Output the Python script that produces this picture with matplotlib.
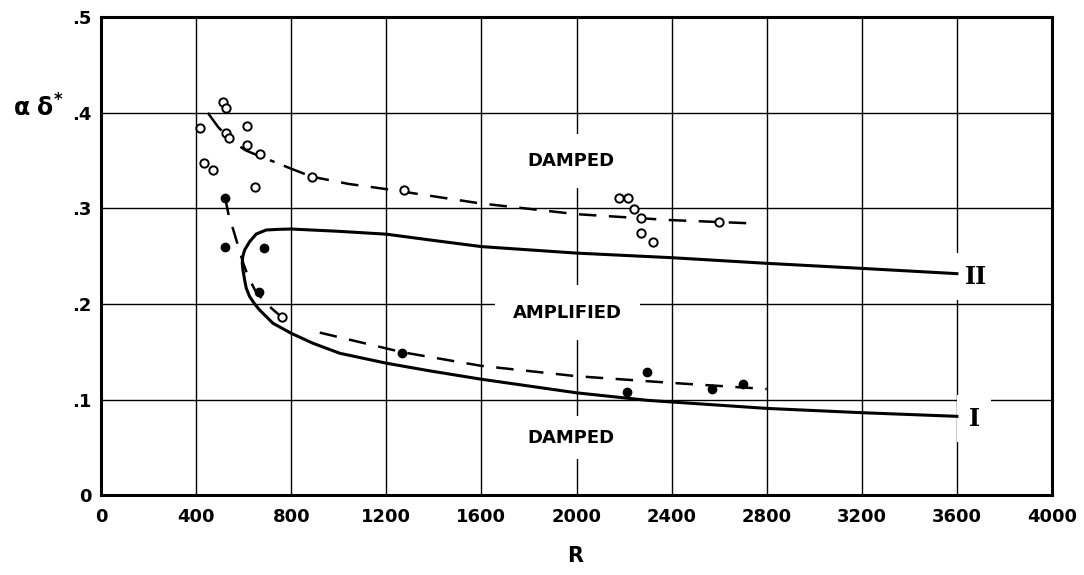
import matplotlib
matplotlib.use("Agg")
import matplotlib.pyplot as plt

# neutral stability curve, from branch II end round the nose to branch I end
curve_R = [3600, 3200, 2800, 2400, 2000, 1600, 1382, 1200, 1000, 800, 751, 695, 653,
           625, 604, 596, 594, 597, 604, 611, 625, 646, 667, 723, 800, 891, 1004, 1200,
           1382, 1600, 2000, 2300, 2800, 3200, 3600]
curve_a = [0.2317, 0.2372, 0.2425, 0.2484, 0.2532, 0.260, 0.267, 0.273, 0.276, 0.2784,
           0.2781, 0.2774, 0.2732, 0.2652, 0.2564, 0.2495, 0.2425, 0.2355, 0.2251,
           0.2164, 0.2077, 0.200, 0.1937, 0.1798, 0.1693, 0.1589, 0.1484, 0.138,
           0.130, 0.1212, 0.107, 0.0991, 0.0907, 0.0862, 0.0824]

# upper dashed curve (dash-dot part first)
upper_R = [449, 494, 550, 606, 662, 733, 803, 886, 1041, 1196, 1590, 1997, 2390, 2740]
upper_a = [0.400, 0.3847, 0.3708, 0.361, 0.3551, 0.3482, 0.3412, 0.3332, 0.3256,
           0.3203, 0.3054, 0.294, 0.2878, 0.2843]
n_dashdot = 8

# lower dashed curve, two pieces
low1_R = [522, 536, 557, 578, 599, 620, 648, 683, 719, 761]
low1_a = [0.311, 0.294, 0.277, 0.2595, 0.242, 0.228, 0.2143, 0.2038, 0.195, 0.186]
low2_R = [920, 1267, 1600, 2000, 2400, 2800]
low2_a = [0.170, 0.1495, 0.1352, 0.1244, 0.1174, 0.111]

# measured points
open_R = [511, 526, 417, 616, 526, 540, 613, 667, 432, 470, 648, 886, 761, 1274,
          2178, 2218, 2240, 2272, 2272, 2323, 2601]
open_a = [0.4115, 0.405, 0.384, 0.386, 0.379, 0.374, 0.366, 0.357, 0.347, 0.3405,
          0.322, 0.3325, 0.186, 0.319, 0.311, 0.311, 0.2993, 0.290, 0.274, 0.2643,
          0.2857]
filled_R = [522, 522, 685, 664, 1267, 2213, 2295, 2571, 2702]
filled_a = [0.311, 0.2595, 0.259, 0.212, 0.149, 0.1077, 0.1283, 0.1107, 0.1161]

x_ticks = [0, 400, 800, 1200, 1600, 2000, 2400, 2800, 3200, 3600, 4000]
y_ticks = [0, 0.1, 0.2, 0.3, 0.4, 0.5]
y_tick_labels = ["0", ".1", ".2", ".3", ".4", ".5"]

fig = plt.figure(figsize=(10.84, 5.75), dpi=100)
ax = fig.add_axes([0.0932, 0.139, 0.8773, 0.831])

ax.plot(curve_R, curve_a, color="black", lw=2.2, zorder=4)
ax.plot(upper_R[:n_dashdot], upper_a[:n_dashdot], color="black", lw=1.8,
        dashes=(9, 4, 2, 4), zorder=4)
ax.plot(upper_R[n_dashdot - 1:], upper_a[n_dashdot - 1:], color="black", lw=1.8,
        dashes=(7, 5), zorder=4)
ax.plot(low1_R, low1_a, color="black", lw=1.8, dashes=(7, 5), zorder=4)
ax.plot(low2_R, low2_a, color="black", lw=1.8, dashes=(7, 5), zorder=4)

ax.plot(open_R, open_a, "o", ms=6, mfc="white", mec="black", mew=1.4, zorder=5)
ax.plot(filled_R, filled_a, "o", ms=6, mfc="black", mec="black", zorder=5)

ax.set_xlim(0, 4000)
ax.set_ylim(0, 0.5)
ax.set_xticks(x_ticks)
ax.set_yticks(y_ticks)
ax.set_yticklabels(y_tick_labels)
ax.tick_params(length=0, labelsize=13, pad=9)
ax.tick_params(axis="y", pad=7)
for lab in ax.get_xticklabels() + ax.get_yticklabels():
    lab.set_fontweight("bold")
ax.set_axisbelow(True)
ax.grid(True, color="black", lw=1.0)
for s in ax.spines.values():
    s.set_linewidth(2.2)

box = dict(boxstyle="square,pad=1.0", fc="white", ec="none")
ax.text(1975, 0.35, "DAMPED", fontsize=13, fontweight="bold", ha="center",
        va="center", bbox=box, zorder=3)
ax.text(1961, 0.191, "AMPLIFIED", fontsize=13, fontweight="bold", ha="center",
        va="center", bbox=box, zorder=3)
ax.text(1977, 0.06, "DAMPED", fontsize=13, fontweight="bold", ha="center",
        va="center", bbox=dict(boxstyle="square,pad=0.7", fc="white", ec="none"),
        zorder=3)
ax.text(3680, 0.2286, "II", fontsize=17, fontweight="bold", family="DejaVu Serif",
        ha="center", va="center", bbox=dict(boxstyle="square,pad=0.5", fc="white", ec="none"),
        zorder=3)
ax.text(3672, 0.08, "I", fontsize=17, fontweight="bold", family="DejaVu Serif",
        ha="center", va="center", bbox=dict(boxstyle="square,pad=0.5", fc="white", ec="none"),
        zorder=3)

fig.text(575 / 1084, 1 - 556 / 575, "R", fontsize=15, fontweight="bold",
         ha="center", va="center")
fig.text(38 / 1084, 1 - 108 / 575, r"$\mathbf{\alpha\ \delta^{*}}$", fontsize=17,
         ha="center", va="center")

fig.savefig("out.png", dpi=100)
